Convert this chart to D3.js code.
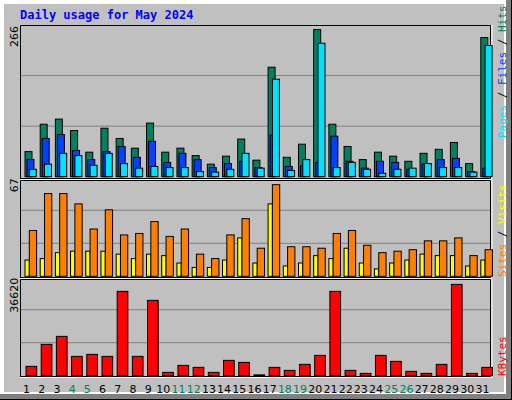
<!DOCTYPE html>
<html><head><meta charset="utf-8">
<script src="https://cdn.jsdelivr.net/npm/d3@7"></script>
<style>body{margin:0;background:#fff}svg{display:block}</style>
</head><body><svg id="c" width="512" height="400"></svg>
<script>
const days = d3.range(1, 32);
const weekend = [4,5,11,12,18,19,25,26];
const hits  = [44,92,101,81,43,85,67,50,94,43,50,37,22,36,66,29,192,34,57,258,92,53,30,43,36,27,41,48,60,23,244];
const files = [30,67,74,46,30,44,53,34,62,25,41,30,16,23,27,16,73,18,19,25,71,27,15,27,25,13,22,30,32,9,15];
const pages = [13,22,41,37,20,41,23,15,18,16,16,9,8,13,41,15,171,11,30,234,16,25,13,6,13,15,23,16,16,8,230];
const visits= [11,12,16,17,17,17,15,12,15,14,9,6,6,11,26,9,49,7,9,14,12,19,9,5,9,11,15,14,14,7,11];
const sites = [31,56,56,49,32,45,28,29,37,27,32,15,12,28,39,19,62,20,20,19,29,31,21,16,17,18,24,24,26,14,18];
const kbytes= [3452,11590,14550,7150,7890,7150,31190,7150,27870,1233,3822,3083,1233,5672,4932,300,3083,1973,4192,7521,31190,1973,863,7521,5302,1603,863,4192,33780,863,3083];
const maxTop = 266, maxMid = 67, maxBot = 36620;

const svg = d3.select("#c");
// frame
svg.append("rect").attr("x",0).attr("y",0).attr("width",512).attr("height",400).attr("fill","#808080");
svg.append("rect").attr("x",0).attr("y",0).attr("width",506).attr("height",394).attr("fill","#fff");
svg.append("rect").attr("x",4).attr("y",4).attr("width",500).attr("height",388).attr("fill","#c0c0c0");
svg.append("line").attr("x1",0).attr("y1",399.5).attr("x2",512).attr("y2",399.5).attr("stroke","#000");
svg.append("line").attr("x1",511.5).attr("y1",0).attr("x2",511.5).attr("y2",400).attr("stroke","#000");

svg.append("text").attr("x",20).attr("y",19).attr("fill","#0000ff")
  .attr("font-family","DejaVu Sans Mono").attr("font-weight","bold").attr("font-size",12)
  .text("Daily usage for May 2024");

const x = d3.scaleBand().domain(days).range([20, 491]);
const panels = [
  {top:25, bottom:176.7, max:maxTop, label:"266"},
  {top:177.3, bottom:276.3, max:maxMid, label:"67"},
  {top:276.7, bottom:375.7, max:maxBot, label:"36620"}
];
panels.forEach((p,i)=>{
  const y = d3.scaleLinear().domain([0,p.max]).range([p.bottom,p.top]);
  p.y = y;
  [1/3,2/3].forEach(f=>svg.append("line").attr("x1",20).attr("x2",491)
    .attr("y1",y(p.max*f)).attr("y2",y(p.max*f)).attr("stroke","#808080").attr("stroke-width",1));
  svg.append("text").attr("transform",`translate(18,${p.top+1}) rotate(-90)`).attr("text-anchor","end")
    .attr("font-family","DejaVu Sans").attr("font-size",11).text(p.label);
});
// panel borders
[[25,180],[180,279],[279,378]].forEach(([t,b])=>{
  svg.append("path").attr("d",`M20.5,${b}V${t+0.5}H490.5`).attr("stroke","#000").attr("fill","none");
  svg.append("path").attr("d",`M20.5,${b-1.5}H490.5V${t+0.5}`).attr("stroke","#000").attr("fill","none");
  svg.append("path").attr("d",`M20,${b-0.5}H492V${t}`).attr("stroke","#fff").attr("fill","none");
});
function bars(data, p, off, w, color){
  svg.append("g").selectAll("rect").data(data).join("rect")
    .attr("x",(d,i)=>x(days[i])+off).attr("width",w)
    .attr("y",d=>p.y(d)).attr("height",d=>p.bottom-p.y(d))
    .attr("fill",color).attr("stroke","#000").attr("stroke-width",1);
}
bars(hits, panels[0], 5, 7, "#00805f");
bars(files, panels[0], 7, 7, "#0040ff");
bars(pages, panels[0], 9.3, 7, "#00e0ff");
bars(visits, panels[1], 5, 4.3, "#ffff00");
bars(sites, panels[1], 9.3, 7.3, "#ff8000");
bars(kbytes, panels[2], 6, 10.7, "#ff0000");

svg.append("g").selectAll("text").data(days).join("text")
  .attr("x",d=>x(d)+x.bandwidth()/2-1).attr("y",393).attr("text-anchor","middle")
  .attr("font-family","DejaVu Sans").attr("font-size",11)
  .attr("fill",d=>weekend.includes(d)?"#00805f":"#000").text(d=>d);

function legend(yb, parts){
  const t = svg.append("text").attr("transform",`translate(506,${yb}) rotate(-90)`)
    .attr("font-family","DejaVu Sans Mono").attr("font-size",11);
  parts.forEach(([s,c])=>t.append("tspan").attr("fill",c).text(s));
}
legend(138, [["Pages","#00e0ff"],[" / ","#000"],["Files","#0040ff"],[" / ","#000"],["Hits","#00805f"]]);
legend(277, [["Sites","#ff8000"],[" / ","#000"],["Visits","#ffff00"]]);
legend(376, [["KBytes","#ff0000"]]);
</script></body></html>
